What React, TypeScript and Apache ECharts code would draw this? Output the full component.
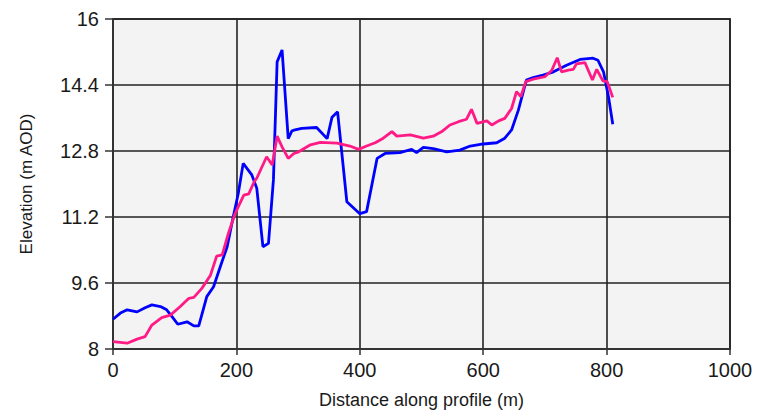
import React, { useEffect, useRef } from "react";
import * as echarts from "echarts";

const blueDistance = [0, 12, 23, 39, 52, 63, 77, 87, 96, 105, 120, 131, 139, 152, 163, 174, 185, 195, 203, 211, 225, 233, 243, 252, 260, 266, 274, 284, 290, 295, 306, 330, 347, 355, 364, 379, 400, 411, 428, 441, 465, 484, 492, 503, 519, 541, 562, 579, 600, 622, 635, 646, 657, 670, 681, 697, 714, 735, 757, 778, 786, 795, 803, 810];
const blueElevation = [8.72, 8.87, 8.95, 8.9, 9.0, 9.07, 9.03, 8.95, 8.78, 8.6, 8.66, 8.56, 8.56, 9.27, 9.51, 10.0, 10.48, 11.21, 11.77, 12.5, 12.22, 11.9, 10.48, 10.56, 12.1, 14.96, 15.25, 13.1, 13.29, 13.31, 13.35, 13.37, 13.1, 13.62, 13.75, 11.57, 11.28, 11.33, 12.62, 12.74, 12.76, 12.84, 12.76, 12.89, 12.86, 12.78, 12.82, 12.92, 12.97, 13.0, 13.11, 13.31, 13.79, 14.52, 14.58, 14.64, 14.72, 14.88, 15.02, 15.05, 15.0, 14.72, 14.12, 13.45];

const pinkDistance = [0, 23, 39, 52, 63, 79, 93, 109, 123, 131, 144, 158, 168, 177, 187, 198, 212, 220, 229, 233, 249, 258, 266, 274, 284, 293, 301, 320, 336, 363, 384, 398, 411, 425, 438, 452, 460, 482, 503, 519, 533, 546, 560, 573, 581, 590, 606, 614, 625, 635, 646, 654, 661, 669, 681, 700, 711, 720, 727, 738, 746, 751, 765, 777, 784, 794, 801, 810];
const pinkElevation = [8.18, 8.14, 8.24, 8.3, 8.58, 8.76, 8.82, 9.03, 9.23, 9.25, 9.47, 9.79, 10.25, 10.28, 10.8, 11.29, 11.73, 11.76, 12.06, 12.14, 12.66, 12.46, 13.16, 12.9, 12.62, 12.74, 12.78, 12.95, 13.01, 12.99, 12.92, 12.84, 12.92, 13.0, 13.11, 13.27, 13.16, 13.19, 13.11, 13.16, 13.27, 13.43, 13.51, 13.57, 13.81, 13.47, 13.53, 13.43, 13.53, 13.59, 13.83, 14.24, 14.12, 14.48, 14.54, 14.6, 14.75, 15.06, 14.72, 14.76, 14.78, 14.91, 14.94, 14.52, 14.78, 14.5, 14.48, 14.1];

const xTicks = { min: 0, max: 1000, interval: 200 };
const yTicks = { min: 8, max: 16, interval: 1.6 };

const FONT = "'Liberation Sans', Arial, sans-serif";

export default function App() {
  const ref = useRef<HTMLDivElement>(null);
  useEffect(() => {
    if (!ref.current) return;
    const chart = echarts.init(ref.current, undefined, { renderer: "svg" });
    const zip = (xs: number[], ys: number[]) => xs.map((x, i) => [x, ys[i]]);
    chart.setOption({
      animation: false,
      backgroundColor: "#ffffff",
      grid: {
        left: 113,
        right: 30,
        top: 19,
        bottom: 65,
        show: true,
        backgroundColor: "#f3f3f3",
        borderColor: "#4a4a4a",
        borderWidth: 2,
      },
      xAxis: {
        type: "value",
        min: xTicks.min,
        max: xTicks.max,
        interval: xTicks.interval,
        name: "Distance along profile (m)",
        nameLocation: "middle",
        nameGap: 42,
        nameTextStyle: { fontFamily: FONT, fontSize: 18, color: "#1a1a1a" },
        axisLine: { show: true, lineStyle: { color: "#333", width: 2 } },
        axisTick: { show: true, length: 6, lineStyle: { color: "#333", width: 1.5 } },
        axisLabel: {
          margin: 11,
          fontFamily: FONT,
          fontSize: 20,
          color: "#1a1a1a",
          formatter: (v: number) => String(v),
        },
        splitLine: { show: true, lineStyle: { color: "#222", width: 1.6 } },
      },
      yAxis: {
        type: "value",
        min: yTicks.min,
        max: yTicks.max,
        interval: yTicks.interval,
        name: "Elevation (m AOD)",
        nameLocation: "middle",
        nameGap: 78,
        nameTextStyle: { fontFamily: FONT, fontSize: 17, color: "#1a1a1a" },
        axisLine: { show: true, lineStyle: { color: "#333", width: 2 } },
        axisTick: { show: true, length: 8, lineStyle: { color: "#333", width: 1.5 } },
        axisLabel: {
          margin: 14,
          fontFamily: FONT,
          fontSize: 20,
          color: "#1a1a1a",
          formatter: (v: number) => String(Math.round(v * 10) / 10),
        },
        splitLine: { show: true, lineStyle: { color: "#222", width: 1.6 } },
      },
      series: [
        {
          type: "line",
          data: zip(blueDistance, blueElevation),
          symbol: "none",
          lineStyle: { color: "#0000ff", width: 2.8 },
          itemStyle: { color: "#0000ff" },
        },
        {
          type: "line",
          data: zip(pinkDistance, pinkElevation),
          symbol: "none",
          lineStyle: { color: "#ff1a86", width: 2.8 },
          itemStyle: { color: "#ff1a86" },
        },
      ],
    });
    return () => chart.dispose();
  }, []);
  return <div ref={ref} style={{ width: 760, height: 414, position: "absolute", left: 0, top: 0 }} />;
}
